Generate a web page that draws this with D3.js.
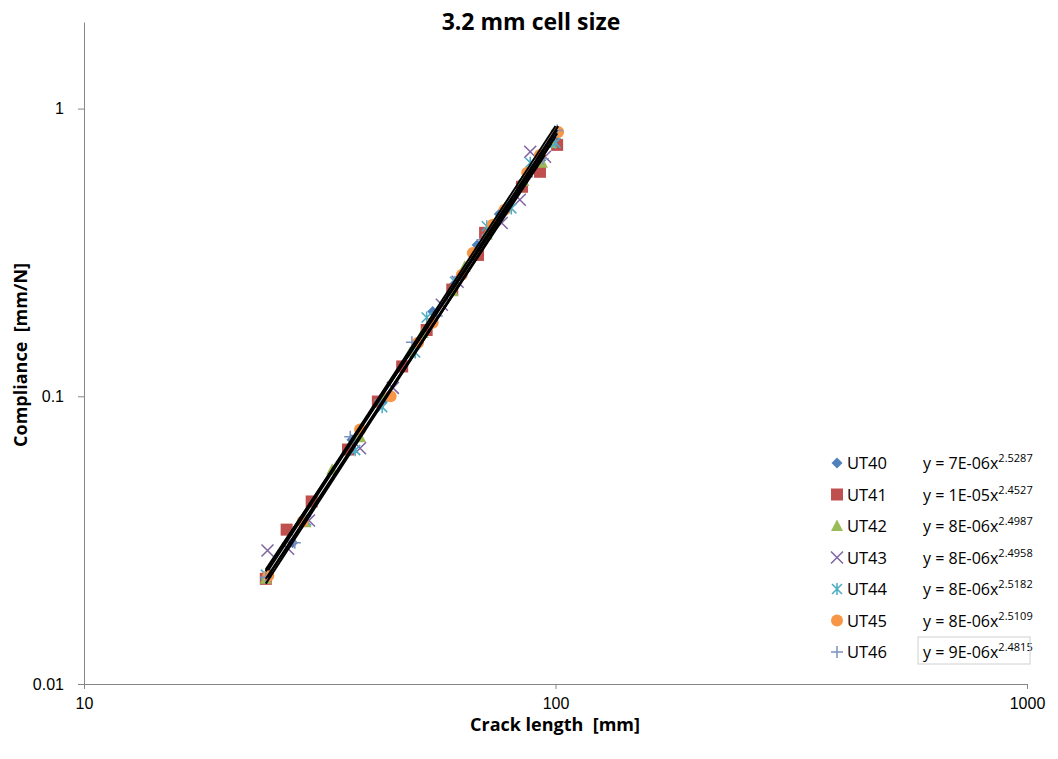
<!DOCTYPE html>
<html>
<head>
<meta charset="utf-8">
<script src="https://cdn.jsdelivr.net/npm/d3@7"></script>
<style>
  body { margin: 0; background: #fff; }
  svg { font-family: "Open Sans", "Noto Sans", sans-serif; }
  .axis path, .axis line { stroke: #868686; }
  text.pre { white-space: pre; }
</style>
</head>
<body>
<svg width="1058" height="759"></svg>
<script>
// crack length [mm] and compliance [mm/N]
const ut40 = [[24.3,0.0233],[27.7,0.031],[37,0.0706],[43.5,0.098],[54.9,0.197],[61,0.245],[68.2,0.336],[76,0.43],[84.5,0.55],[93,0.66],[100,0.78]];
const ut41 = [[24.3,0.0232],[26.9,0.0344],[30.4,0.0431],[36.3,0.0653],[42.0,0.0959],[47.3,0.127],[53.3,0.17],[60.4,0.235],[68.5,0.31],[70.9,0.37],[84.9,0.535],[92.7,0.603],[100.8,0.748]];
const ut42 = [[24.3,0.0232],[29.5,0.0365],[33.6,0.0556],[38.5,0.072],[43,0.1],[49.2,0.142],[52.3,0.166],[60.5,0.232],[64.2,0.282],[71.5,0.365],[78,0.45],[85.5,0.56],[93.6,0.648],[98,0.76]];
const ut43 = [[24.5,0.0291],[27.1,0.0295],[30,0.037],[38.5,0.066],[45.2,0.107],[57.4,0.208],[62,0.25],[76.9,0.40],[84.0,0.482],[88.4,0.708],[95,0.68]];
const ut44 = [[24.3,0.024],[29.6,0.037],[37.6,0.065],[42.9,0.0917],[50.4,0.142],[53.3,0.188],[61.2,0.25],[71.5,0.39],[80.6,0.45],[88.4,0.648],[100,0.76]];
const ut45 = [[24.6,0.0238],[29.1,0.0367],[38.5,0.0766],[44.7,0.1],[51.1,0.1536],[54.9,0.18],[63.3,0.2647],[66.8,0.315],[73.6,0.395],[78.0,0.445],[87.1,0.598],[92.7,0.69],[101.3,0.83]];
const ut46 = [[24.3,0.0235],[28,0.031],[36.7,0.0724],[42.5,0.097],[49.6,0.154],[56,0.19],[63,0.26],[70,0.35],[78,0.44],[87,0.58],[94,0.67],[100.8,0.84]];

const names = ["UT40", "UT41", "UT42", "UT43", "UT44", "UT45", "UT46"];
const coefs = ["7E-06", "1E-05", "8E-06", "8E-06", "8E-06", "8E-06", "9E-06"];
const powers = ["2.5287", "2.4527", "2.4987", "2.4958", "2.5182", "2.5109", "2.4815"];
const xTicks = [10, 100, 1000];
const yTicks = [0.01, 0.1, 1];

const colors = ["#4F81BD", "#C0504D", "#9BBB59", "#8064A2", "#4BACC6", "#F79646", "#7B93BD"];
const shapes = ["diamond", "square", "triangle", "cross", "star", "circle", "plus"];

const series = [ut40, ut41, ut42, ut43, ut44, ut45, ut46].map((pts, i) => ({
  name: names[i], pts: pts, a: +coefs[i], b: +powers[i],
  color: colors[i], shape: shapes[i]
}));

const svg = d3.select("svg");
const plotLeft = 84, plotRight = 1027, plotTop = 22, plotBottom = 684;

const x = d3.scaleLog().domain([10, 1000]).range([plotLeft, plotRight]);
const y = d3.scaleLog().domain([0.01, 2]).range([plotBottom, plotTop]);

// axes
const xAxis = svg.append("g")
  .attr("class", "axis")
  .attr("transform", `translate(0,${plotBottom})`)
  .call(d3.axisBottom(x).tickValues(xTicks).tickFormat(d3.format("d")).tickSize(5).tickSizeOuter(0).tickPadding(9));

const yAxis = svg.append("g")
  .attr("class", "axis")
  .attr("transform", `translate(${plotLeft},0)`)
  .call(d3.axisLeft(y).tickValues(yTicks).tickFormat(d => String(d)).tickSize(6).tickSizeOuter(0).tickPadding(14));

[xAxis, yAxis].forEach(a => a.selectAll("text").attr("font-size", 16).attr("fill", "#000"));

// marker drawing
function marker(sel, shape, color) {
  if (shape === "diamond") {
    sel.append("path").attr("d", "M0,-5.5L5.5,0L0,5.5L-5.5,0Z").attr("fill", color);
  } else if (shape === "square") {
    sel.append("rect").attr("x", -6).attr("y", -6).attr("width", 12).attr("height", 12).attr("fill", color);
  } else if (shape === "triangle") {
    sel.append("path").attr("d", "M0,-6.5L6,5L-6,5Z").attr("fill", color);
  } else if (shape === "circle") {
    sel.append("circle").attr("r", 6).attr("fill", color);
  } else if (shape === "cross") {
    sel.append("path").attr("d", "M-6,-6L6,6M-6,6L6,-6").attr("stroke", color).attr("stroke-width", 1.5);
  } else if (shape === "star") {
    sel.append("path").attr("d", "M-5,-5L5,5M-5,5L5,-5M0,-6L0,6").attr("stroke", color).attr("stroke-width", 1.5);
  } else if (shape === "plus") {
    sel.append("path").attr("d", "M-6,0L6,0M0,-6L0,6").attr("stroke", color).attr("stroke-width", 1.5);
  }
}

const pointsG = svg.append("g");
series.forEach(s => {
  pointsG.selectAll(null)
    .data(s.pts)
    .enter()
    .append("g")
    .attr("transform", d => `translate(${x(d[0])},${y(d[1])})`)
    .each(function () { marker(d3.select(this), s.shape, s.color); });
});

// power trend lines, from the first to the last crack length of each series
const line = d3.line().x(d => x(d[0])).y(d => y(d[1]));
series.forEach(s => {
  const ext = d3.extent(s.pts, d => d[0]);
  svg.append("path")
    .datum(ext.map(v => [v, s.a * Math.pow(v, s.b)]))
    .attr("d", line)
    .attr("fill", "none")
    .attr("stroke", "#000")
    .attr("stroke-width", 2);
});

// legend
const leg = svg.append("g");
series.forEach((s, i) => {
  const cy = 463 + i * 31.5;
  const g = leg.append("g").attr("transform", `translate(837,${cy})`);
  marker(g, s.shape, s.color);
  leg.append("text").attr("x", 847).attr("y", cy + 6).attr("font-size", 16.5).text(s.name);
  const t = leg.append("text").attr("x", 923).attr("y", cy + 6).attr("font-size", 16);
  t.append("tspan").text(`y = ${coefs[i]}x`);
  t.append("tspan").attr("dy", -7).attr("font-size", 11).text(powers[i]);
});
// box around the last equation label
leg.append("rect")
  .attr("x", 918).attr("y", 463 + 6 * 31.5 - 15).attr("width", 112).attr("height", 27)
  .attr("fill", "none").attr("stroke", "#d0d0d0");

// titles
svg.append("text").attr("x", 531).attr("y", 30).attr("text-anchor", "middle")
  .attr("font-size", 23).attr("font-weight", "bold").text("3.2 mm cell size");
svg.append("text").attr("class", "pre").attr("x", 555).attr("y", 731).attr("text-anchor", "middle")
  .attr("font-size", 18).attr("font-weight", "bold").text("Crack length  [mm]");
svg.append("text").attr("class", "pre").attr("transform", "translate(27,355) rotate(-90)").attr("text-anchor", "middle")
  .attr("font-size", 18).attr("font-weight", "bold").text("Compliance  [mm/N]");
</script>
</body>
</html>
